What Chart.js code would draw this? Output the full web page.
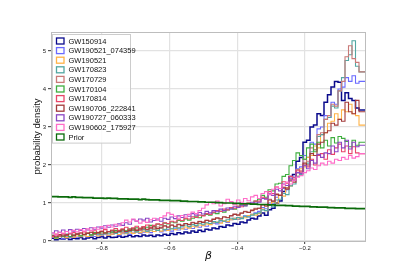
<!DOCTYPE html>
<html>
<head>
<meta charset="utf-8">
<script src="https://cdn.jsdelivr.net/npm/chart.js@4.4.0/dist/chart.umd.min.js"></script>
<style>
  body { margin: 0; background: #fff; }
  canvas { display: block; }
</style>
</head>
<body>
<canvas id="hist" width="407" height="271"></canvas>
<script>
// histogram bins: 90 bins over beta
var xMin = -0.95, xMax = -0.02, nBins = 90;
var xTicks = [-0.8, -0.6, -0.4, -0.2];
var yTicks = [0, 1, 2, 3, 4, 5];

var labels = ["GW150914", "GW190521_074359", "GW190521", "GW170823", "GW170729",
  "GW170104", "GW170814", "GW190706_222841", "GW190727_060333", "GW190602_175927", "Prior"];
var colors = ["#0a0a8c", "#6a6aff", "#ffb347", "#52a7a2", "#c97a78",
  "#3fae3f", "#e8466a", "#a33a3a", "#8a48c4", "#ff6cc8", "#0b6b0b"];

var gw150914 = [0.04,0.07,0.03,0.06,0.05,0.08,0.04,0.07,0.06,0.09,
  0.05,0.08,0.1,0.06,0.09,0.11,0.08,0.12,0.09,0.1,
  0.13,0.1,0.12,0.15,0.11,0.14,0.12,0.16,0.13,0.15,
  0.12,0.16,0.14,0.18,0.15,0.2,0.17,0.22,0.19,0.24,
  0.21,0.26,0.23,0.28,0.25,0.31,0.29,0.34,0.32,0.38,
  0.36,0.42,0.4,0.46,0.44,0.5,0.48,0.55,0.6,0.58,
  0.66,0.74,0.68,0.82,0.86,1.0,1.05,1.3,1.4,1.7,
  1.75,2.1,2.2,2.6,2.65,3.0,3.05,3.35,3.3,3.65,
  3.85,4.05,4.2,4.18,3.7,3.9,3.75,3.7,3.5,3.45];
var gw190521_074359 = [0.07,0.1,0.08,0.12,0.06,0.11,0.09,0.13,0.1,0.12,
  0.14,0.11,0.15,0.12,0.16,0.14,0.18,0.15,0.17,0.2,
  0.16,0.19,0.22,0.18,0.21,0.24,0.2,0.23,0.26,0.22,
  0.25,0.28,0.24,0.27,0.3,0.26,0.32,0.29,0.34,0.31,
  0.35,0.33,0.38,0.36,0.41,0.39,0.44,0.47,0.45,0.5,
  0.52,0.49,0.56,0.6,0.57,0.62,0.66,0.64,0.7,0.74,
  0.78,0.88,0.85,1.0,0.98,1.15,1.2,1.38,1.35,1.6,
  1.68,1.9,1.95,2.25,2.2,2.6,2.55,2.95,3.0,3.3,
  3.25,3.65,3.6,4.0,4.05,4.3,4.2,4.35,4.15,4.2];
var gw190521 = [0.09,0.12,0.07,0.11,0.14,0.09,0.12,0.1,0.13,0.11,
  0.15,0.12,0.14,0.17,0.13,0.16,0.19,0.15,0.18,0.2,
  0.17,0.21,0.19,0.23,0.2,0.24,0.22,0.26,0.23,0.27,
  0.25,0.29,0.26,0.31,0.28,0.33,0.3,0.35,0.32,0.37,
  0.34,0.39,0.37,0.42,0.4,0.45,0.43,0.48,0.5,0.47,
  0.53,0.51,0.56,0.6,0.58,0.63,0.61,0.67,0.7,0.68,
  0.72,0.84,0.8,0.95,1.02,1.0,1.2,1.18,1.4,1.45,
  1.62,1.7,1.9,1.95,2.2,2.25,2.5,2.45,2.8,2.85,
  3.1,3.15,3.35,3.2,3.45,3.4,3.6,3.35,3.3,3.05];
var gw170823 = [0.12,0.15,0.1,0.16,0.13,0.18,0.11,0.15,0.19,0.14,
  0.17,0.2,0.15,0.18,0.22,0.17,0.21,0.19,0.24,0.2,
  0.23,0.26,0.21,0.25,0.28,0.24,0.27,0.3,0.26,0.29,
  0.31,0.28,0.33,0.3,0.35,0.32,0.37,0.34,0.39,0.42,
  0.38,0.43,0.41,0.46,0.44,0.48,0.46,0.51,0.49,0.54,
  0.52,0.56,0.6,0.57,0.62,0.59,0.65,0.63,0.68,0.72,
  0.74,0.82,0.8,0.95,0.9,1.08,1.1,1.25,1.22,1.45,
  1.5,1.7,1.75,2.0,2.05,2.35,2.4,2.75,2.8,3.2,
  3.25,3.55,3.5,3.95,4.3,4.75,4.9,5.27,4.6,4.45];
var gw170729 = [0.13,0.1,0.15,0.12,0.17,0.14,0.11,0.16,0.19,0.15,
  0.18,0.21,0.16,0.2,0.23,0.19,0.22,0.25,0.21,0.24,
  0.27,0.23,0.26,0.3,0.27,0.31,0.28,0.33,0.3,0.35,
  0.32,0.37,0.34,0.39,0.36,0.41,0.38,0.43,0.41,0.46,
  0.44,0.49,0.47,0.52,0.5,0.55,0.53,0.58,0.62,0.59,
  0.64,0.62,0.67,0.71,0.69,0.74,0.78,0.76,0.82,0.86,
  0.86,0.96,0.92,1.1,1.05,1.24,1.2,1.42,1.38,1.62,
  1.6,1.88,1.85,2.15,2.1,2.45,2.4,2.8,2.85,3.2,
  3.3,3.6,3.55,3.95,4.2,4.85,5.14,4.8,4.7,4.45];
var gw170104 = [0.1,0.13,0.08,0.14,0.11,0.16,0.12,0.15,0.18,0.14,
  0.17,0.2,0.16,0.22,0.19,0.24,0.21,0.25,0.23,0.28,
  0.25,0.3,0.27,0.32,0.29,0.35,0.33,0.38,0.36,0.41,
  0.39,0.44,0.42,0.47,0.45,0.5,0.48,0.54,0.52,0.58,
  0.55,0.6,0.64,0.61,0.67,0.7,0.68,0.74,0.72,0.78,
  0.76,0.82,0.86,0.84,0.9,0.95,0.93,1.0,0.98,1.05,
  1.1,1.2,1.15,1.35,1.32,1.5,1.52,1.7,1.75,1.98,
  2.12,2.32,2.25,2.15,2.45,2.55,2.35,2.6,2.45,2.65,
  2.5,2.72,2.58,2.75,2.7,2.62,2.48,2.65,2.52,2.6];
var gw170814 = [0.15,0.12,0.18,0.14,0.2,0.16,0.19,0.22,0.17,0.21,
  0.24,0.2,0.23,0.27,0.22,0.26,0.3,0.25,0.29,0.33,
  0.28,0.32,0.36,0.31,0.35,0.39,0.34,0.38,0.42,0.37,
  0.41,0.45,0.43,0.48,0.46,0.52,0.5,0.56,0.54,0.6,
  0.58,0.64,0.62,0.68,0.66,0.72,0.7,0.76,0.8,0.78,
  0.84,0.82,0.88,0.86,0.92,0.9,0.96,1.0,0.98,1.05,
  1.05,1.15,1.12,1.3,1.25,1.42,1.38,1.56,1.52,1.7,
  1.66,1.85,1.82,2.0,1.95,2.15,2.0,2.25,2.3,2.15,
  2.4,2.28,2.45,2.55,2.35,2.5,2.3,2.48,2.32,2.3];
var gw190706_222841 = [0.12,0.15,0.11,0.17,0.13,0.16,0.19,0.14,0.18,0.21,
  0.17,0.2,0.23,0.19,0.22,0.25,0.21,0.24,0.27,0.23,
  0.26,0.29,0.25,0.28,0.32,0.28,0.31,0.35,0.31,0.34,
  0.37,0.33,0.36,0.4,0.37,0.42,0.39,0.44,0.41,0.46,
  0.43,0.48,0.46,0.51,0.49,0.54,0.52,0.57,0.6,0.58,
  0.63,0.61,0.66,0.7,0.68,0.73,0.77,0.75,0.8,0.84,
  0.86,0.95,0.92,1.08,1.05,1.22,1.2,1.4,1.36,1.58,
  1.55,1.8,1.78,2.05,2.0,2.3,2.25,2.55,2.6,2.85,
  2.9,3.1,3.05,3.2,3.15,3.65,3.4,3.35,3.7,3.4];
var gw190727_060333 = [0.25,0.21,0.27,0.23,0.29,0.25,0.3,0.26,0.31,0.28,
  0.33,0.29,0.35,0.31,0.37,0.34,0.4,0.36,0.42,0.39,
  0.45,0.41,0.48,0.44,0.56,0.52,0.58,0.55,0.6,0.5,
  0.54,0.58,0.52,0.6,0.57,0.63,0.59,0.66,0.62,0.69,
  0.65,0.72,0.68,0.75,0.71,0.78,0.74,0.8,0.77,0.84,
  0.8,0.87,0.84,0.9,0.88,0.94,0.92,0.98,1.02,1.0,
  1.02,1.12,1.1,1.24,1.2,1.36,1.32,1.5,1.46,1.65,
  1.6,1.8,1.78,1.98,1.9,2.12,2.05,2.28,2.2,2.32,
  2.3,2.5,2.35,2.6,2.45,2.65,2.42,2.6,2.48,2.52];
var gw190602_175927 = [0.18,0.21,0.16,0.23,0.19,0.25,0.21,0.28,0.24,0.3,
  0.26,0.32,0.28,0.35,0.31,0.38,0.34,0.41,0.37,0.44,
  0.4,0.48,0.55,0.5,0.58,0.53,0.47,0.52,0.49,0.56,
  0.6,0.55,0.62,0.66,0.74,0.7,0.65,0.6,0.67,0.63,
  0.7,0.76,0.72,0.8,0.86,0.95,1.02,0.98,1.05,0.92,
  0.98,1.1,1.04,0.95,1.08,1.02,1.12,1.06,1.16,1.2,
  1.12,1.25,1.3,1.22,1.36,1.42,1.38,1.48,1.55,1.5,
  1.6,1.68,1.72,1.8,1.85,1.92,1.88,1.98,2.05,2.0,
  2.1,2.05,2.15,2.12,2.2,2.15,2.25,2.18,2.22,2.3];
var prior = [1.17,1.17,1.17,1.16,1.16,1.16,1.15,1.16,1.15,1.15,
  1.14,1.14,1.14,1.13,1.13,1.13,1.12,1.13,1.12,1.12,
  1.11,1.11,1.11,1.1,1.1,1.1,1.09,1.1,1.09,1.08,
  1.08,1.08,1.07,1.07,1.07,1.06,1.06,1.06,1.05,1.05,
  1.04,1.04,1.04,1.03,1.03,1.02,1.02,1.02,1.01,1.01,
  1.0,1.0,1.0,0.99,0.99,0.98,0.98,0.98,0.97,0.97,
  0.96,0.96,0.96,0.95,0.95,0.94,0.94,0.94,0.93,0.93,
  0.92,0.92,0.91,0.91,0.91,0.9,0.9,0.89,0.89,0.89,
  0.88,0.88,0.87,0.87,0.87,0.86,0.86,0.86,0.85,0.85];

var series = [gw150914, gw190521_074359, gw190521, gw170823, gw170729,
  gw170104, gw170814, gw190706_222841, gw190727_060333, gw190602_175927, prior];

var binW = (xMax - xMin) / nBins;

// turn bin heights into a step outline (matplotlib histtype='step')
function stepPoints(vals) {
  var pts = [{x: xMin, y: 0}];
  for (var i = 0; i < vals.length; i++) {
    pts.push({x: xMin + i * binW, y: vals[i]});
  }
  pts.push({x: xMin + vals.length * binW, y: vals[vals.length - 1]});
  pts.push({x: xMin + vals.length * binW, y: 0});
  return pts;
}

var datasets = series.map(function(vals, i) {
  var isPrior = labels[i] == "Prior";
  return {
    label: labels[i],
    data: stepPoints(vals),
    borderColor: colors[i],
    borderWidth: isPrior ? 1.7 : (i == 0 ? 1.5 : 1.1),
    stepped: 'after',
    pointRadius: 0,
    fill: false,
    order: labels.length - i
  };
});

var minus = function(v) { return String(v).replace('-', '\u2212'); };

var framePlugin = {
  id: 'frame',
  afterDatasetsDraw: function(chart) {
    var a = chart.chartArea, ctx = chart.ctx;
    ctx.save();
    ctx.strokeStyle = '#bdbdbd';
    ctx.lineWidth = 1;
    ctx.strokeRect(a.left + 0.5, a.top + 0.5, a.right - a.left - 1, a.bottom - a.top);
    ctx.restore();
  }
};

var legendPlugin = {
  id: 'boxLegend',
  afterDraw: function(chart) {
    var a = chart.chartArea, ctx = chart.ctx;
    var x0 = a.left + 1.5, y0 = a.top + 2.5, w = 78, rowH = 9.6;
    var h = rowH * labels.length + 3;
    ctx.save();
    ctx.fillStyle = 'rgba(255,255,255,0.85)';
    ctx.fillRect(x0, y0, w, h);
    ctx.strokeStyle = '#cccccc';
    ctx.lineWidth = 1;
    ctx.strokeRect(x0, y0, w, h);
    ctx.font = '7.5px "Liberation Sans", Arial, sans-serif';
    ctx.textBaseline = 'middle';
    labels.forEach(function(lab, i) {
      var cy = y0 + 6.5 + i * rowH;
      ctx.strokeStyle = colors[i];
      ctx.lineWidth = 1.3;
      ctx.strokeRect(x0 + 4, cy - 3, 7.5, 6);
      ctx.fillStyle = '#111';
      ctx.fillText(lab, x0 + 16, cy + 0.5);
    });
    ctx.restore();
  }
};

new Chart(document.getElementById("hist"), {
  type: 'line',
  data: { datasets: datasets },
  plugins: [framePlugin, legendPlugin],
  options: {
    responsive: false,
    animation: false,
    layout: { padding: { top: 32, right: 41, left: 0, bottom: 0 } },
    plugins: { legend: { display: false }, tooltip: { enabled: false } },
    scales: {
      x: {
        type: 'linear',
        min: xMin,
        max: xMax,
        afterBuildTicks: function(scale) {
          scale.ticks = xTicks.map(function(v) { return {value: v}; });
        },
        afterFit: function(scale) { scale.height = 30; },
        ticks: {
          callback: function(v) { return minus(v); },
          font: { family: '"Liberation Sans", Arial, sans-serif', size: 6 },
          color: '#222',
          padding: 1,
          maxRotation: 0
        },
        grid: { color: '#e2e2e2', lineWidth: 1.2, tickLength: 3, tickColor: '#555' },
        border: { display: false },
        title: {
          display: true,
          text: 'β',
          font: { family: '"DejaVu Sans", sans-serif', size: 11, style: 'italic' },
          color: '#111',
          padding: { top: 0, bottom: 8 }
        }
      },
      y: {
        min: 0,
        max: 5.5,
        afterBuildTicks: function(scale) {
          scale.ticks = yTicks.map(function(v) { return {value: v}; });
        },
        afterFit: function(scale) { scale.width = 51; },
        ticks: {
          font: { family: '"Liberation Sans", Arial, sans-serif', size: 6 },
          color: '#222',
          padding: 2
        },
        grid: { color: '#e2e2e2', lineWidth: 1.2, tickLength: 3, tickColor: '#555' },
        border: { display: false },
        title: {
          display: true,
          text: 'probability density',
          font: { family: '"Liberation Sans", Arial, sans-serif', size: 9.5 },
          color: '#111',
          padding: { top: 32, bottom: 0 }
        }
      }
    }
  }
});
</script>
</body>
</html>
